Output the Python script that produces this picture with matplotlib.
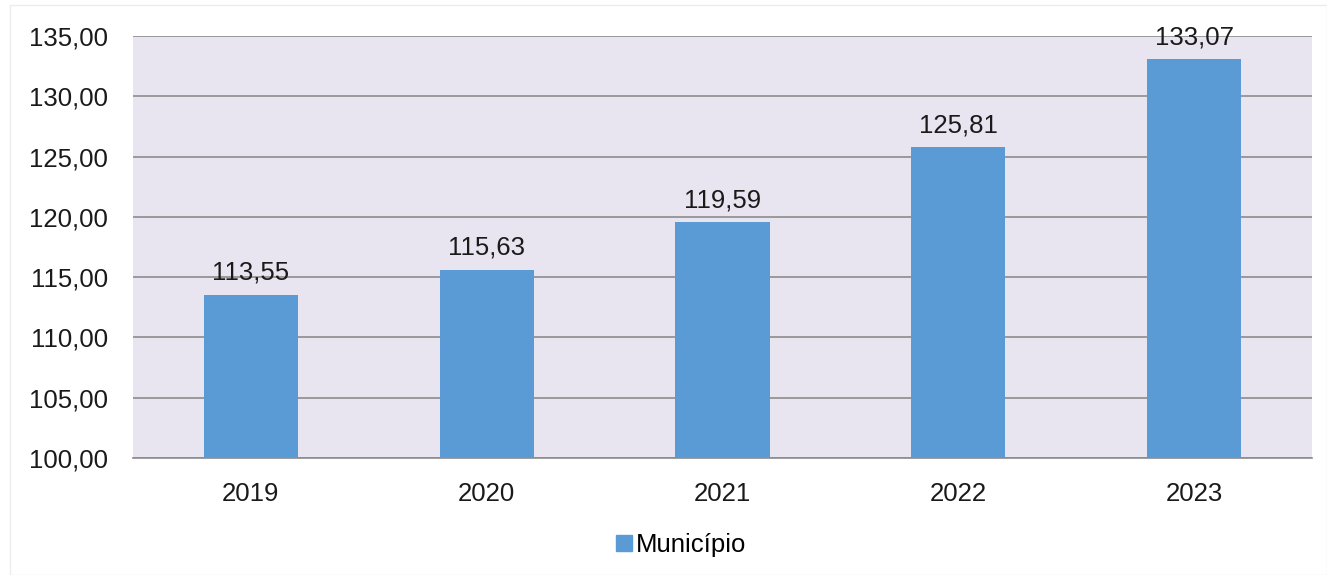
import matplotlib
matplotlib.use("Agg")
import matplotlib.pyplot as plt
from matplotlib.patches import Rectangle
from matplotlib.lines import Line2D

years = ["2019", "2020", "2021", "2022", "2023"]
values = [113.55, 115.63, 119.59, 125.81, 133.07]
yticks = [100, 105, 110, 115, 120, 125, 130, 135]
series_name = "Município"

plt.rcParams['font.family'] = ['Liberation Sans', 'DejaVu Sans']

fs = 18.5
fig = plt.figure(figsize=(13.27, 5.75), dpi=100)
fig.patches.append(Rectangle((10/1327, 0), 1 - 10/1327, 1 - 5/575, transform=fig.transFigure,
                             facecolor='white', edgecolor='#ececec', lw=1, zorder=-10))
ax = fig.add_axes([133/1327, 1 - 458/575, (1312-133)/1327, (458-36)/575])
ax.set_facecolor('#E9E5F0')

bar_color = '#5B9BD5'
x = list(range(len(years)))
ax.bar(x, values, width=0.40, color=bar_color, zorder=3)
for xi, v in zip(x, values):
    ax.text(xi, v + 0.8, f"{v:.2f}".replace('.', ','), ha='center', va='bottom',
            fontsize=fs, color='#1a1a1a', clip_on=False, zorder=4)

ax.set_xlim(-0.5, len(years) - 0.5)
ax.set_ylim(100, 135)
ax.set_yticks(yticks)
ax.set_yticklabels([f"{t:.2f}".replace('.', ',') for t in yticks])
ax.set_xticks(x)
ax.set_xticklabels(years)
ax.yaxis.grid(True, color='#8c8c8c', lw=1.2, zorder=1)
ax.set_axisbelow(True)
for s in ['left', 'right', 'top']:
    ax.spines[s].set_visible(False)
ax.spines['bottom'].set_color('#8c8c8c')
ax.spines['bottom'].set_linewidth(1.2)
ax.tick_params(axis='both', length=0, labelsize=fs, colors='#1a1a1a')
ax.tick_params(axis='y', pad=18)
ax.tick_params(axis='x', pad=17)

handle = Line2D([], [], marker='s', linestyle='none', markersize=11, markerfacecolor=bar_color,
                markeredgecolor=bar_color)
fig.legend([handle], [series_name], loc='center', bbox_to_anchor=(680/1327, 1 - 545/575),
           frameon=False, fontsize=fs, handletextpad=0.1, handlelength=0.8)

fig.savefig("out.png", dpi=100)
